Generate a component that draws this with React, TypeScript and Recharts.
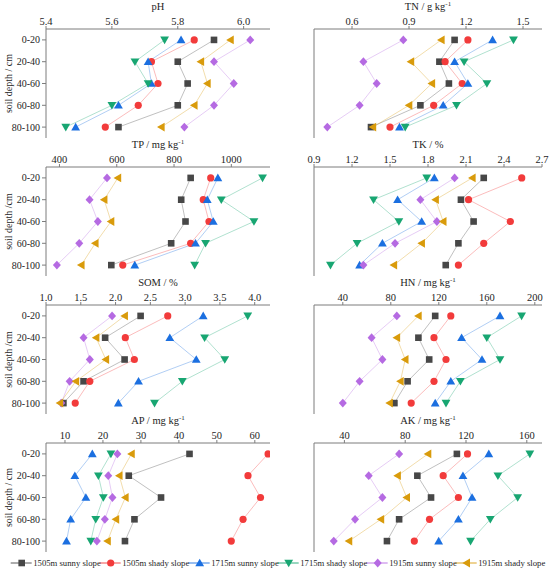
import React from 'react';
import { LineChart, Line, XAxis, YAxis } from 'recharts';

const depths = ['0-20', '20-40', '40-60', '60-80', '80-100'];
const seriesNames = [
  '1505m sunny slope',
  '1505m shady slope',
  '1715m sunny slope',
  '1715m shady slope',
  '1915m sunny slope',
  '1915m shady slope',
];
const seriesColors = ['#474747', '#f23b3b', '#1b6fe0', '#18a672', '#b56ae2', '#d99b0b'];
const seriesShapes = ['square', 'circle', 'up', 'down', 'diamond', 'left'];

// rows = series (in seriesNames order), columns = depths
const phValues = [
  [5.91, 5.8, 5.83, 5.8, 5.62],
  [5.85, 5.72, 5.74, 5.68, 5.58],
  [5.81, 5.71, 5.72, 5.62, 5.49],
  [5.76, 5.67, 5.71, 5.6, 5.46],
  [6.02, 5.91, 5.97, 5.91, 5.82],
  [5.96, 5.87, 5.89, 5.85, 5.75],
];
const tnValues = [
  [1.14, 1.06, 1.11, 0.96, 0.7],
  [1.21, 1.09, 1.18, 1.03, 0.8],
  [1.34, 1.14, 1.21, 1.08, 0.85],
  [1.45, 1.19, 1.31, 1.15, 0.88],
  [0.87, 0.66, 0.73, 0.64, 0.47],
  [1.07, 0.91, 1.02, 0.9, 0.71],
];
const tpValues = [
  [858, 825, 840, 790, 581],
  [928, 902, 922, 858, 621],
  [953, 916, 937, 875, 663],
  [1109, 965, 1079, 910, 872],
  [566, 505, 534, 469, 391],
  [604, 556, 580, 525, 476],
];
const tkValues = [
  [2.24, 2.06, 2.16, 2.04, 1.94],
  [2.54, 2.12, 2.45, 2.24, 2.04],
  [1.85, 1.56, 1.75, 1.44, 1.26],
  [1.79, 1.37, 1.57, 1.24, 1.03],
  [2.01, 1.74, 1.87, 1.54, 1.29],
  [2.15, 1.86, 1.92, 1.75, 1.53],
];
const somValues = [
  [2.36, 1.85, 2.13, 1.54, 1.25],
  [2.75, 2.14, 2.27, 1.63, 1.42],
  [3.26, 2.78, 3.16, 2.33, 2.04],
  [3.9, 3.28, 3.57, 2.96, 2.56],
  [1.95, 1.54, 1.63, 1.34, 1.22],
  [2.13, 1.72, 1.86, 1.43, 1.2],
];
const hnValues = [
  [117, 103, 112, 94, 83],
  [130, 116, 126, 116, 97],
  [171, 139, 156, 130, 117],
  [189, 160, 171, 138, 126],
  [85, 64, 73, 54, 40],
  [103, 85, 92, 88, 79],
];
const apValues = [
  [42.8, 26.8, 35.3, 28.3, 25.8],
  [63.5, 58.2, 61.5, 56.9, 53.8],
  [17.2, 12.6, 15.5, 11.5, 10.4],
  [22.1, 18.8, 20.1, 18.1, 16.8],
  [23.8, 21.4, 22.5, 20.5, 18.4],
  [27.5, 24.3, 25.9, 23.4, 21.2],
];
const akValues = [
  [114, 88, 97, 76, 68],
  [121, 105, 115, 96, 86],
  [135, 118, 124, 115, 102],
  [162, 141, 154, 136, 123],
  [76, 56, 65, 47, 33],
  [95, 75, 81, 64, 43],
];

const phTicks = [5.4, 5.6, 5.8, 6.0];
const tnTicks = [0.6, 0.9, 1.2, 1.5];
const tpTicks = [400, 600, 800, 1000];
const tkTicks = [0.9, 1.2, 1.5, 1.8, 2.1, 2.4, 2.7];
const somTicks = [1.0, 1.5, 2.0, 2.5, 3.0, 3.5, 4.0];
const hnTicks = [40, 80, 120, 160, 200];
const apTicks = [10, 20, 30, 40, 50, 60];
const akTicks = [40, 80, 120, 160];

type Panel = {
  title: string;
  sup?: string;
  values: number[][];
  ticks: number[];
  domain: [number, number];
  decimals: number;
  yLabel?: string;
  col: number;
  row: number;
};

const panels: Panel[] = [
  { title: 'pH', values: phValues, ticks: phTicks, domain: [5.4, 6.08], decimals: 1, yLabel: 'soil depth / cm', col: 0, row: 0 },
  { title: 'TN / g kg', sup: '-1', values: tnValues, ticks: tnTicks, domain: [0.4, 1.6], decimals: 1, col: 1, row: 0 },
  { title: 'TP / mg kg', sup: '-1', values: tpValues, ticks: tpTicks, domain: [353, 1135], decimals: 0, yLabel: 'soil depth /cm', col: 0, row: 1 },
  { title: 'TK / %', values: tkValues, ticks: tkTicks, domain: [0.9, 2.7], decimals: 1, col: 1, row: 1 },
  { title: 'SOM / %', values: somValues, ticks: somTicks, domain: [1.0, 4.22], decimals: 1, yLabel: 'soil depth /cm', col: 0, row: 2 },
  { title: 'HN / mg kg', sup: '-1', values: hnValues, ticks: hnTicks, domain: [16, 206], decimals: 0, col: 1, row: 2 },
  { title: 'AP / mg kg', sup: '-1', values: apValues, ticks: apTicks, domain: [5, 64], decimals: 0, yLabel: 'soil depth / cm', col: 0, row: 3 },
  { title: 'AK / mg kg', sup: '-1', values: akValues, ticks: akTicks, domain: [20, 170], decimals: 0, col: 1, row: 3 },
];

const FONT = 'Liberation Serif';
const AXIS_COLOR = '#7d7d7d';
const TEXT_COLOR = '#1e1e1e';

function Marker({ cx, cy, shape, color }: { cx: number; cy: number; shape: string; color: string }) {
  if (cx == null || cy == null || isNaN(cx) || isNaN(cy)) return null;
  switch (shape) {
    case 'square':
      return <rect x={cx - 3.3} y={cy - 3.3} width={6.6} height={6.6} fill={color} />;
    case 'circle':
      return <circle cx={cx} cy={cy} r={3.6} fill={color} />;
    case 'up':
      return <polygon points={`${cx},${cy - 4.3} ${cx + 4.4},${cy + 3.3} ${cx - 4.4},${cy + 3.3}`} fill={color} />;
    case 'down':
      return <polygon points={`${cx},${cy + 4.3} ${cx + 4.4},${cy - 3.3} ${cx - 4.4},${cy - 3.3}`} fill={color} />;
    case 'diamond':
      return <polygon points={`${cx},${cy - 4.4} ${cx + 4},${cy} ${cx},${cy + 4.4} ${cx - 4},${cy}`} fill={color} />;
    case 'left':
      return <polygon points={`${cx - 4.3},${cy} ${cx + 3.3},${cy - 4.4} ${cx + 3.3},${cy + 4.4}`} fill={color} />;
    default:
      return null;
  }
}

function TitleLabel(props: any) {
  const { viewBox, title, sup } = props;
  if (!viewBox) return null;
  const cx = viewBox.x + viewBox.width / 2;
  return (
    <text x={cx} y={viewBox.y + 9.5} textAnchor="middle" fontSize={10.5} fill={TEXT_COLOR} style={{ fontFamily: FONT }}>
      {title}
      {sup ? (
        <tspan dy={-4} fontSize={7}>
          {sup}
        </tspan>
      ) : null}
    </text>
  );
}

function YTitle(props: any) {
  const { viewBox, text } = props;
  if (!viewBox) return null;
  const x = 8.5;
  const y = viewBox.y + viewBox.height / 2;
  return (
    <text
      x={x}
      y={y}
      transform={`rotate(-90 ${x} ${y})`}
      textAnchor="middle"
      dominantBaseline="central"
      fontSize={10}
      fill={TEXT_COLOR}
      style={{ fontFamily: FONT }}
    >
      {text}
    </text>
  );
}

const CHART_W = 275;
const CHART_H = 140;
const ROW_PITCH = 138;

function PanelChart({ p }: { p: Panel }) {
  const data = depths.map((d, i) => {
    const row: any = { depth: d };
    p.values.forEach((s, k) => {
      row['s' + k] = s[i];
    });
    return row;
  });
  const left = p.col === 0;
  const yAxisWidth = left ? 46 : 39;
  const marginRight = left ? 5 : 8;
  return (
    <div style={{ position: 'absolute', left: p.col * 275, top: p.row * ROW_PITCH, width: CHART_W, height: CHART_H }}>
      <LineChart
        width={CHART_W}
        height={CHART_H}
        data={data}
        layout="vertical"
        margin={{ top: 0, right: marginRight, bottom: 2, left: 0 }}
        style={{ fontFamily: FONT }}
      >
        <XAxis
          type="number"
          orientation="top"
          domain={p.domain}
          ticks={p.ticks}
          allowDataOverflow
          height={29}
          tickSize={3}
          tickMargin={1}
          interval={0}
          stroke={AXIS_COLOR}
          tick={{ fill: TEXT_COLOR, fontSize: 10.5, style: { fontFamily: FONT } }}
          tickFormatter={(v: number) => v.toFixed(p.decimals)}
          label={<TitleLabel title={p.title} sup={p.sup} />}
        />
        <XAxis
          xAxisId="bottom"
          type="number"
          orientation="bottom"
          domain={p.domain}
          allowDataOverflow
          height={0}
          tick={false}
          tickLine={false}
          stroke={AXIS_COLOR}
        />
        <YAxis
          type="category"
          dataKey="depth"
          width={yAxisWidth}
          padding={{ top: 10.9, bottom: 10.9 }}
          tickSize={4}
          tickMargin={2}
          interval={0}
          stroke={AXIS_COLOR}
          tick={left ? { fill: TEXT_COLOR, fontSize: 10, style: { fontFamily: FONT } } : false}
          label={p.yLabel ? <YTitle text={p.yLabel} /> : undefined}
        />
        <YAxis
          yAxisId="right"
          type="category"
          dataKey="depth"
          orientation="right"
          padding={{ top: 10.9, bottom: 10.9 }}
          width={0}
          tick={false}
          tickLine={false}
          stroke={AXIS_COLOR}
        />
        {p.values.map((_, k) => (
          <Line
            key={k}
            dataKey={'s' + k}
            name={seriesNames[k]}
            stroke={seriesColors[k]}
            strokeOpacity={0.38}
            strokeWidth={0.9}
            isAnimationActive={false}
            dot={(dp: any) => (
              <Marker key={`d${k}-${dp.index}`} cx={dp.cx} cy={dp.cy} shape={seriesShapes[k]} color={seriesColors[k]} />
            )}
            activeDot={false}
          />
        ))}
      </LineChart>
    </div>
  );
}

function LegendRow() {
  const pitch = 89;
  const x0 = 10.7;
  const top = 553;
  const yy = 563 - top;
  return (
    <svg width={550} height={17} style={{ position: 'absolute', left: 0, top }}>
      {seriesNames.map((name, k) => {
        const x = x0 + k * pitch;
        return (
          <g key={k}>
            <line x1={x} y1={yy} x2={x + 21} y2={yy} stroke={seriesColors[k]} strokeWidth={0.9} />
            <Marker cx={x + 11} cy={yy} shape={seriesShapes[k]} color={seriesColors[k]} />
            <text x={x + 22.5} y={yy} dominantBaseline="central" fontSize={8.7} fill={TEXT_COLOR} style={{ fontFamily: FONT }}>
              {name}
            </text>
          </g>
        );
      })}
    </svg>
  );
}

export default function App() {
  return (
    <div
      style={{
        position: 'absolute',
        left: 0,
        top: 0,
        width: 550,
        height: 570,
        background: '#ffffff',
        fontFamily: FONT,
        overflow: 'hidden',
      }}
    >
      {panels.map((p, i) => (
        <PanelChart key={i} p={p} />
      ))}
      <LegendRow />
    </div>
  );
}
